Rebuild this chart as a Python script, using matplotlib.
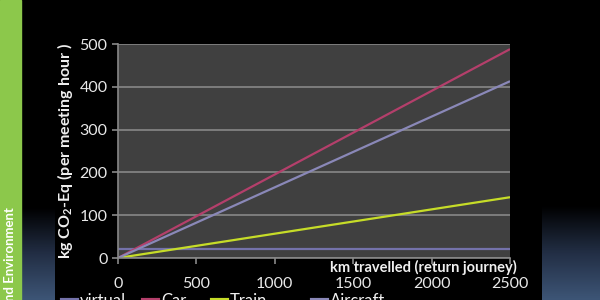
import numpy as np
import matplotlib.pyplot as plt
from matplotlib.lines import Line2D
from matplotlib.colors import LinearSegmentedColormap

plt.rcParams['font.family'] = ['Lato', 'DejaVu Sans']
plt.rcParams['mathtext.fontset'] = 'custom'
plt.rcParams['mathtext.rm'] = 'Lato:bold'
plt.rcParams['mathtext.it'] = 'Lato:bold'
plt.rcParams['mathtext.bf'] = 'Lato:bold'

km = [0, 2500]
virtual = [20, 20]
car = [0, 488]
train = [0, 142]
aircraft = [0, 413]
series_names = ["virtual", "Car", "Train", "Aircraft"]
colors = ["#7472aa", "#b43f6b", "#c6dc28", "#8a88b8"]
yticks = [0, 100, 200, 300, 400, 500]
xticks = [0, 500, 1000, 1500, 2000, 2500]

fig = plt.figure(figsize=(6, 3), dpi=100, facecolor="black")

# background decorations
bg = fig.add_axes([0, 0, 1, 1], zorder=-10)
bg.axis("off")
bg.add_patch(plt.Rectangle((0, 0), 21, 300, color="#8cc84b"))
grad = np.linspace(0, 1, 100).reshape(-1, 1)
cmap = LinearSegmentedColormap.from_list("g", ["#000000", "#222e44", "#3d5576"])
bg.imshow(grad, extent=(21, 55, 300, 207), cmap=cmap, aspect="auto", origin="upper")
bg.imshow(grad, extent=(542, 600, 300, 205), cmap=cmap, aspect="auto", origin="upper")
bg.set_xlim(0, 600)
bg.set_ylim(300, 0)
bg.text(10, 301, "nd Environment", rotation=90, color="white", fontsize=9.5,
        fontweight="bold", ha="center", va="bottom")

ax = fig.add_axes([118/600, 1-258/300, (510-118)/600, (258-44)/300])
ax.set_facecolor("#404040")
series = [virtual, car, train, aircraft]
for s, n, c in zip(series, series_names, colors):
    ax.plot(km, s, color=c, lw=1.6, label=n, solid_capstyle="butt")
ax.set_xlim(0, 2500)
ax.set_ylim(0, 500)
ax.set_yticks(yticks)
ax.set_xticks(xticks)
ax.yaxis.grid(True, color="#888888", lw=1.2)
ax.set_axisbelow(True)
for side in ["top", "right"]:
    ax.spines[side].set_visible(False)
for side in ["left", "bottom"]:
    ax.spines[side].set_color("#888888")
    ax.spines[side].set_linewidth(1.2)
ax.tick_params(axis="x", colors="#888888", length=4, width=1.2, direction="out",
               labelcolor="#e8e8e8", labelsize=11.5, pad=10)
ax.tick_params(axis="y", colors="#888888", length=4, width=1.2, direction="out",
               labelcolor="#e8e8e8", labelsize=11.5)
ax.set_ylabel("kg CO$_2$-Eq (per meeting hour )", color="#f0f0f0", fontsize=11.5,
              fontweight="bold", labelpad=3)
fig.text(517/600, 1-267/300, "km travelled (return journey)", color="#f0f0f0",
         fontsize=10.5, fontweight="bold", ha="right", va="center")

# legend (cut off at the bottom edge, as in the original slide)
legend_x = [62, 143, 212, 312]
for lx, n, c in zip(legend_x, series_names, colors):
    bg.add_line(Line2D([lx, lx + 15], [299.5, 299.5], color=c, lw=3))
    bg.text(lx + 18, 306, n, color="#f0f0f0", fontsize=12, ha="left", va="baseline")

fig.savefig("out.png", dpi=100, facecolor="black")
